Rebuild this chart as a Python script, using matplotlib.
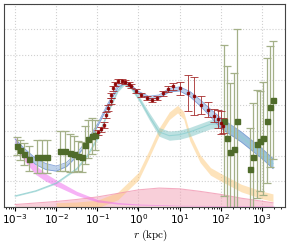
import numpy as np
import matplotlib.pyplot as plt

plt.rcParams['mathtext.fontset'] = 'cm'

# model components (log10 r in kpc, value, half width of band)
bh_logr = [-3.0, -2.75, -2.5, -2.25, -2.0, -1.5, -1.0, -0.5, 0.0, 1.0, 2.0, 3.3]
bh_val = [2.55, 1.95, 1.45, 1.15, 0.93, 0.52, 0.23, 0.13, 0.08, 0.04, 0.03, 0.02]
bh_err = [0.2, 0.19, 0.18, 0.15, 0.12, 0.08, 0.05, 0.03, 0.02, 0.01, 0.01, 0.01]

nsc_logr = [-3.0, -2.5, -2.0, -1.5, -1.25, -1.0, -0.75, -0.5, -0.35, -0.2, 0.0, 0.25,
            0.5, 0.75, 1.0, 1.25, 1.5, 1.75, 2.0, 2.5, 3.0, 3.27]
nsc_val = [0.42, 0.62, 0.93, 1.5, 2.0, 2.7, 3.7, 4.6, 4.85, 4.75, 4.3, 3.6,
           2.95, 2.8, 2.84, 2.95, 3.1, 3.25, 3.28, 2.75, 2.1, 1.7]
nsc_err = [0.02, 0.02, 0.03, 0.03, 0.04, 0.05, 0.05, 0.06, 0.06, 0.08, 0.1, 0.14,
           0.17, 0.18, 0.18, 0.18, 0.18, 0.18, 0.19, 0.2, 0.2, 0.2]

bulge_logr = [-2.0, -1.5, -1.0, -0.5, 0.0, 0.25, 0.5, 0.75, 0.95, 1.1, 1.25, 1.5,
              1.75, 2.0, 2.5, 3.0, 3.27]
bulge_val = [0.0, 0.03, 0.1, 0.42, 1.2, 2.05, 2.95, 3.59, 3.85, 3.6, 2.74, 1.89,
             1.39, 1.16, 0.73, 0.46, 0.35]
bulge_err = 0.15

disk_logr = [-3.0, -2.5, -2.0, -1.5, -1.0, -0.5, 0.0, 0.5, 1.0, 1.5, 2.0, 2.5, 3.27]
disk_val = [0.08, 0.14, 0.2, 0.28, 0.38, 0.52, 0.66, 0.73, 0.7, 0.6, 0.48, 0.33, 0.15]

tot_logr = [-3.0, -2.75, -2.5, -2.25, -2.0, -1.75, -1.5, -1.25, -1.0, -0.75, -0.5,
            -0.35, -0.25, 0.0, 0.25, 0.5, 0.75, 1.0, 1.25, 1.5, 1.75, 2.0, 2.5, 3.0, 3.27]
tot_val = [2.57, 2.16, 1.78, 1.58, 1.5, 1.66, 2.05, 2.55, 3.2, 4.0, 4.75, 4.9, 4.85,
           4.5, 4.3, 4.35, 4.6, 4.65, 4.45, 4.1, 3.7, 3.3, 2.75, 2.1, 1.7]
tot_err = [0.1, 0.1, 0.12, 0.12, 0.1, 0.08, 0.07, 0.06, 0.05, 0.05, 0.05, 0.05, 0.05,
           0.05, 0.06, 0.06, 0.07, 0.08, 0.1, 0.12, 0.15, 0.2, 0.2, 0.2, 0.2]

# inner data (dark red)
red_logr = [-0.98, -0.90, -0.85, -0.78, -0.73, -0.68, -0.66, -0.61, -0.56, -0.49,
            -0.41, -0.32, -0.24, -0.17, -0.05, 0.07, 0.20, 0.32, 0.44, 0.59, 0.71,
            0.85, 1.02, 1.20, 1.34, 1.51, 1.68, 1.83, 1.93, 2.00, 2.05]
red_val = [2.93, 3.05, 3.24, 3.63, 3.90, 4.17, 4.40, 4.67, 4.86, 4.98,
           4.98, 4.94, 4.86, 4.75, 4.56, 4.40, 4.29, 4.21, 4.29, 4.48, 4.63,
           4.75, 4.67, 4.48, 4.36, 4.02, 3.82, 3.59, 3.47, 3.32, 3.20]
red_err = [0.1, 0.1, 0.12, 0.12, 0.12, 0.12, 0.1, 0.1, 0.08, 0.08,
           0.08, 0.08, 0.08, 0.08, 0.08, 0.08, 0.08, 0.08, 0.08, 0.1, 0.12,
           0.15, 0.25, 0.7, 0.75, 0.35, 0.3, 0.25, 0.35, 0.45, 0.3]

# green data
grn_logr = [-2.95, -2.88, -2.78, -2.66, -2.46, -2.34, -2.22, -1.90, -1.78, -1.66,
            -1.56, -1.46, -1.37, -1.29, -1.22, -1.12, -1.05,
            2.07, 2.15, 2.22, 2.32, 2.39, 2.71, 2.78, 2.88, 2.95, 3.02, 3.12, 3.20, 3.27]
grn_val = [2.39, 2.24, 2.08, 1.89, 1.97, 1.97, 1.97, 2.20, 2.20, 2.12,
           2.08, 2.01, 1.97, 2.43, 2.66, 2.78, 2.82,
           3.40, 2.70, 2.16, 2.28, 3.40, 1.47, 1.97, 2.47, 2.59, 2.70, 3.40, 3.94, 4.21]
grn_err = [0.35, 0.4, 0.45, 0.5, 0.65, 0.65, 0.65, 0.8, 0.8, 0.75,
           0.7, 0.6, 0.6, 0.75, 0.75, 0.7, 0.6,
           3.0, 2.86, 2.74, 3.01, 3.63, 1.62, 2.12, 2.12, 1.97, 2.24, 2.47, 2.39, 2.32]

fig = plt.figure(figsize=(2.89, 2.43), dpi=100)
ax = fig.add_axes([0.0138, 0.15, 0.972, 0.833])


def band(logr, val, err, color, alpha, edge=None):
    r = 10 ** np.array(logr)
    v = np.array(val)
    e = np.array(err) * np.ones_like(v)
    ax.fill_between(r, v - e, v + e, color=color, alpha=alpha, lw=0)
    if edge is not None:
        ax.plot(r, v - e, color=edge, lw=0.6, alpha=0.8)
        ax.plot(r, v + e, color=edge, lw=0.6, alpha=0.8)


r_disk = 10 ** np.array(disk_logr)
ax.fill_between(r_disk, 0, disk_val, color='#f2a0b4', alpha=0.5, lw=0)
ax.plot(r_disk, disk_val, color='#f08aa8', lw=0.8, alpha=0.7)

band(bulge_logr, bulge_val, bulge_err, '#fdc878', 0.5)
band(nsc_logr, nsc_val, nsc_err, '#7cc4c4', 0.5)
ax.plot(10 ** np.array(nsc_logr), nsc_val, color='#8fd0d0', lw=0.8, alpha=0.8)
band(bh_logr, bh_val, bh_err, '#ee66ee', 0.5)
band(tot_logr, tot_val, tot_err, '#7fa6d8', 0.5, edge='#6b8fd0')

ax.errorbar(10 ** np.array(grn_logr), grn_val, yerr=grn_err, fmt='s', ms=3.6,
            color='#4f6b2a', ecolor='#a4b088', elinewidth=0.9, capsize=3, capthick=0.9)
ax.errorbar(10 ** np.array(red_logr), red_val, yerr=red_err, fmt='s', ms=1.8,
            color='#8b0000', ecolor='#a52a2a', elinewidth=0.7, capsize=3, capthick=0.7,
            alpha=0.85)

ax.set_xscale('log')
ax.set_xlim(10 ** -3.27, 10 ** 3.56)
ax.set_ylim(0, 8)
ax.set_yticks(range(9))
ax.set_yticklabels([])
ax.tick_params(axis='y', length=0)
ax.set_xticks([1e-3, 1e-2, 1e-1, 1, 10, 100, 1000])
ax.tick_params(axis='x', which='major', length=3, labelsize=7.5, pad=1)
ax.tick_params(axis='x', which='minor', length=1.5)
ax.grid(True, color='#d0d0d0', ls=':', lw=0.8)
ax.set_axisbelow(True)
for s in ax.spines.values():
    s.set_color('#444444')
ax.set_xlabel(r'$r\ (\mathrm{kpc})$', fontsize=8)
ax.xaxis.set_label_coords(0.52, -0.105)

fig.savefig('out.png', dpi=100)
